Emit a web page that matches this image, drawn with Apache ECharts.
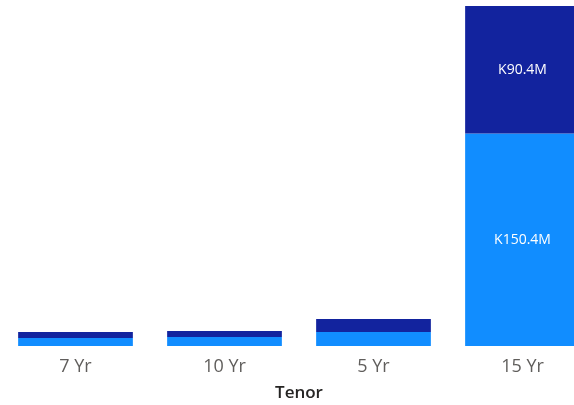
<!DOCTYPE html>
<html>
<head>
<meta charset="UTF-8">
<title>Tenor</title>
<script src="https://cdn.jsdelivr.net/npm/echarts@6/dist/echarts.min.js"></script>
<style>
  html, body { margin: 0; padding: 0; background: #fff; }
  #main { width: 574px; height: 405px; }
</style>
</head>
<body>
<div id="main"></div>
<script>
// categories and values (millions, Kwacha)
var tenors = ['7 Yr', '10 Yr', '5 Yr', '15 Yr'];
var lowerValues = [5.7, 6.4, 9.9, 150.4];
var upperValues = [4.2, 4.2, 9.2, 90.4];

function fmt(p) {
  return p.value > 30 ? 'K' + p.value.toFixed(1) + 'M' : '';
}

var chart = echarts.init(document.getElementById('main'));
chart.setOption({
  animation: false,
  grid: { left: 1, right: -23, top: 6, bottom: 59, containLabel: false, outerBoundsMode: 'none' },
  xAxis: {
    type: 'category',
    data: tenors,
    axisLine: { show: false },
    axisTick: { show: false },
    axisLabel: { color: '#605E5C', fontSize: 18, fontFamily: 'Open Sans', margin: 12 },
    name: 'Tenor',
    nameLocation: 'middle',
    nameGap: 39,
    nameTextStyle: { color: '#252423', fontSize: 17, fontFamily: 'Open Sans', fontWeight: 600 }
  },
  yAxis: {
    type: 'value',
    min: 0,
    max: 240.6,
    show: false
  },
  series: [
    {
      name: 'lower',
      type: 'bar',
      stack: 'total',
      data: lowerValues,
      barCategoryGap: '23%',
      itemStyle: { color: '#118DFF' },
      label: { show: true, position: 'inside', color: '#fff', fontSize: 14, fontFamily: 'Open Sans', formatter: fmt }
    },
    {
      name: 'upper',
      type: 'bar',
      stack: 'total',
      data: upperValues,
      barCategoryGap: '23%',
      itemStyle: { color: '#12239E' },
      label: { show: true, position: 'inside', color: '#fff', fontSize: 14, fontFamily: 'Open Sans', formatter: fmt }
    }
  ]
});
</script>
</body>
</html>
